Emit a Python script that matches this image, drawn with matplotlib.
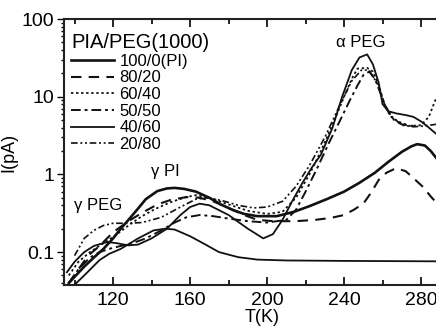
import matplotlib
matplotlib.use("Agg")
import matplotlib.pyplot as plt
from matplotlib.ticker import FixedLocator, LogLocator, NullFormatter, FixedFormatter

plt.rcParams['font.family'] = ['Liberation Sans', 'DejaVu Sans']

# ---- data ----
T_pi = [97, 100, 105, 110, 115, 120, 124, 128, 132, 137, 143, 148, 152, 157, 163, 170, 176, 182, 188,
        195, 205, 214, 222, 231, 240, 248, 256, 263, 270, 275, 278, 282, 285, 290]
I_pi = [0.04, 0.048, 0.065, 0.085, 0.11, 0.15, 0.2, 0.26, 0.34, 0.48, 0.61, 0.66, 0.67, 0.65, 0.6, 0.5,
        0.41, 0.35, 0.31, 0.29, 0.29, 0.33, 0.39, 0.48, 0.6, 0.78, 1.05, 1.45, 1.95, 2.3, 2.45, 2.35, 2.0, 1.4]

T_8020 = [97, 102, 107, 113, 120, 128, 135, 143, 150, 158, 165, 172, 180, 188, 195, 203, 215, 225, 233,
          240, 245, 250, 254, 258, 262, 267, 272, 277, 281, 285, 290]
I_8020 = [0.04, 0.06, 0.09, 0.12, 0.18, 0.25, 0.32, 0.41, 0.47, 0.51, 0.5, 0.45, 0.37, 0.3, 0.26, 0.25,
          0.25, 0.26, 0.275, 0.3, 0.35, 0.42, 0.58, 0.85, 1.05, 1.2, 1.1, 0.85, 0.69, 0.52, 0.38]

T_6040 = [97, 102, 108, 115, 122, 128, 135, 142, 150, 158, 163, 170, 180, 190, 200, 208, 215, 222, 228,
          235, 240, 244, 247, 252, 255, 258, 261, 264, 268, 274, 280, 284, 287, 290]
I_6040 = [0.05, 0.075, 0.1, 0.13, 0.17, 0.22, 0.29, 0.36, 0.44, 0.51, 0.54, 0.5, 0.41, 0.34, 0.31, 0.33,
          0.5, 1.0, 2.0, 5.0, 10.0, 17.0, 23.0, 23.5, 21.0, 14.0, 8.0, 5.6, 4.8, 4.2, 4.3, 5.5, 8.5, 13.0]

T_5050 = [97, 102, 108, 113, 118, 124, 130, 137, 145, 152, 158, 165, 172, 180, 190, 200, 210, 215, 220,
          226, 232, 238, 243, 247, 250, 253, 256, 259, 262, 266, 270, 276]
I_5050 = [0.04, 0.06, 0.085, 0.1, 0.11, 0.12, 0.13, 0.15, 0.19, 0.24, 0.28, 0.3, 0.29, 0.27, 0.25, 0.24,
          0.26, 0.35, 0.6, 1.2, 2.5, 5.0, 9.0, 14.0, 19.0, 21.0, 17.0, 11.0, 7.0, 5.0, 4.4, 4.2]

T_4060 = [96, 100, 105, 110, 117, 122, 128, 133, 140, 148, 155, 160, 165, 170, 180, 190, 198, 203, 208,
          213, 218, 223, 228, 234, 239, 244, 248, 252, 255, 258, 260, 263, 267, 272, 276, 280, 283, 290]
I_4060 = [0.055, 0.075, 0.1, 0.12, 0.135, 0.13, 0.122, 0.125, 0.15, 0.2, 0.3, 0.38, 0.42, 0.4, 0.3, 0.2,
          0.15, 0.17, 0.26, 0.45, 0.75, 1.2, 1.8, 4.0, 10.0, 22.0, 32.0, 35.0, 26.0, 15.0, 8.0, 6.5, 6.1,
          5.8, 5.5, 4.8, 4.2, 3.0]

T_2080 = [100, 105, 110, 115, 120, 128, 135, 145, 155, 163, 170, 178, 185, 193, 200, 208, 215, 222, 230,
          238, 244, 249, 253, 257, 261, 265, 270, 276, 282, 290]
I_2080 = [0.09, 0.15, 0.19, 0.22, 0.235, 0.235, 0.24, 0.28, 0.38, 0.48, 0.5, 0.45, 0.4, 0.37, 0.38, 0.45,
          0.7, 1.3, 3.0, 8.0, 16.0, 22.0, 22.0, 15.0, 8.0, 5.5, 4.3, 4.1, 4.2, 4.5]

T_low = [100, 105, 113, 118, 124, 133, 141, 147, 152, 160, 168, 175, 185, 195, 210, 240, 290]
I_low = [0.038, 0.05, 0.079, 0.095, 0.11, 0.15, 0.19, 0.2, 0.195, 0.16, 0.125, 0.1, 0.086, 0.08, 0.078,
         0.077, 0.076]

legend_title = "PIA/PEG(1000)"
x_major = [120, 160, 200, 240, 280]
x_minor = [100, 140, 180, 220, 260, 300]
y_major = [0.1, 1, 10, 100]
y_labels = ["0.1", "1", "10", "100"]

# ---- figure ----
W, H = 436, 333
fig = plt.figure(figsize=(W / 100, H / 100), dpi=100)
xmin, xmax = 94.5, 300.0
pxK = 1.925
ax_left, ax_bottom, ax_top = 64, 285, 19
ax_w = (xmax - xmin) * pxK
ax = fig.add_axes([ax_left / W, 1 - ax_bottom / H, ax_w / W, (ax_bottom - ax_top) / H])

ax.set_xlim(xmin, xmax)
ax.set_yscale('log')
ax.set_ylim(0.0377, 100)

lc = '#111111'
ax.plot(T_pi, I_pi, color=lc, lw=1.9, ls='-', label='100/0(PI)')
ax.plot(T_8020, I_8020, color=lc, lw=1.5, ls=(0, (5, 3.5)), label='80/20')
ax.plot(T_6040, I_6040, color=lc, lw=1.3, ls=(0, (1.3, 1.5)), label='60/40')
ax.plot(T_5050, I_5050, color=lc, lw=1.4, ls=(0, (5, 2, 1.5, 2)), label='50/50')
ax.plot(T_4060, I_4060, color=lc, lw=1.3, ls='-', label='40/60')
ax.plot(T_2080, I_2080, color=lc, lw=1.2, ls=(0, (4, 1.6, 1.2, 1.6, 1.2, 1.6)), label='20/80')
ax.plot(T_low, I_low, color=lc, lw=1.3, ls='-')

# ticks
ax.xaxis.set_major_locator(FixedLocator(x_major))
ax.xaxis.set_minor_locator(FixedLocator(x_minor))
ax.tick_params(axis='x', which='both', direction='in', top=True, bottom=True, labelsize=14,
               pad=5, width=1.2)
ax.tick_params(axis='x', which='major', length=6)
ax.tick_params(axis='x', which='minor', length=3.5)
ax.yaxis.set_major_locator(FixedLocator(y_major))
ax.yaxis.set_major_formatter(FixedFormatter(y_labels))
ax.yaxis.set_minor_locator(LogLocator(base=10, subs=range(2, 10)))
ax.yaxis.set_minor_formatter(NullFormatter())
ax.tick_params(axis='y', which='both', direction='out', left=True, right=False, labelsize=14,
               pad=2, width=1.0)
ax.tick_params(axis='y', which='major', length=5)
ax.tick_params(axis='y', which='minor', length=2.5)
for s in ax.spines.values():
    s.set_linewidth(1.5)
    s.set_color('#222222')

ax.set_xlabel('T(K)', fontsize=13, labelpad=0)
ax.set_ylabel('I(pA)', fontsize=13, labelpad=3)

# annotations
ax.text(112, 0.40, 'γ PEG', fontsize=12, ha='center', va='center')
ax.text(147, 1.1, 'γ PI', fontsize=12, ha='center', va='center')
ax.text(248.5, 50, 'α PEG', fontsize=12, ha='center', va='center')

axh = ax_bottom - ax_top
leg = ax.legend(loc='upper left', bbox_to_anchor=((71 - ax_left) / ax_w, 1 - (33 - ax_top) / axh),
                frameon=False, fontsize=12, title=legend_title, title_fontsize=14.5,
                handlelength=2.6, handletextpad=0.3, labelspacing=0.1, borderpad=0,
                borderaxespad=0, alignment='left')

fig.savefig('out.png', dpi=100)
